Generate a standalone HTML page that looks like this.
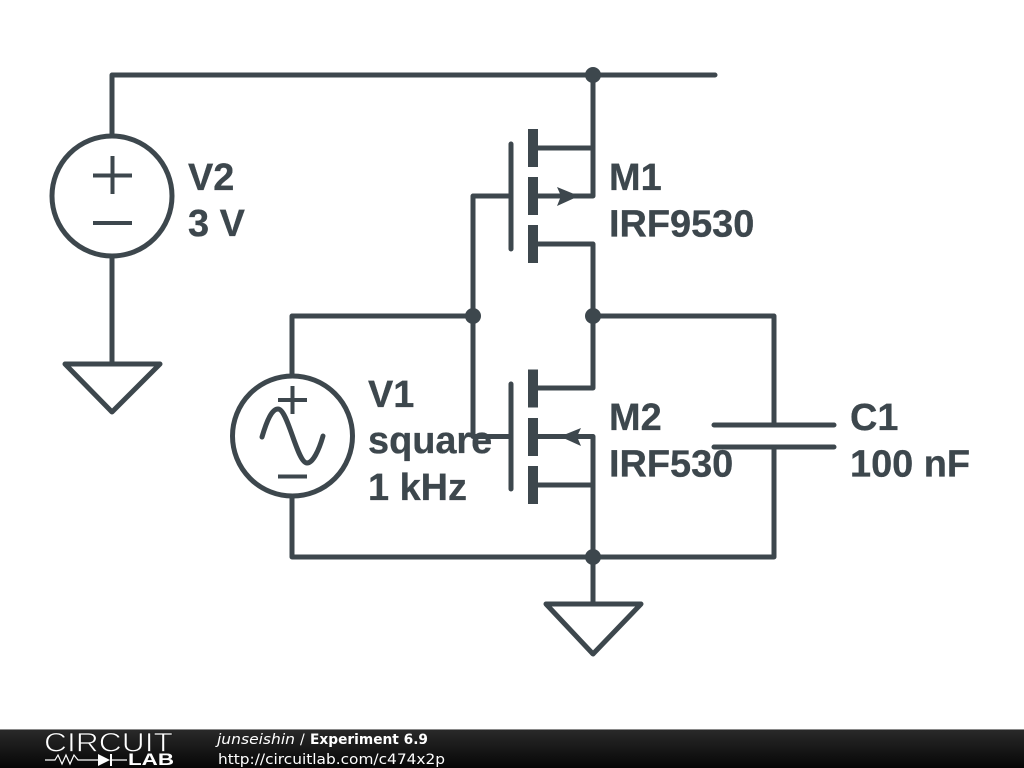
<!DOCTYPE html>
<html>
<head>
<meta charset="utf-8">
<style>
html,body{margin:0;padding:0;background:#fff}
svg{display:block}
.l{font-family:"Liberation Sans",sans-serif;font-weight:bold;font-size:37.9px;fill:#3d474d;stroke:#3d474d;stroke-width:.3}
.f{font-family:"DejaVu Sans",sans-serif;font-size:14px;fill:#fff}
</style>
</head>
<body>
<svg width="1024" height="768" viewBox="0 0 1024 768" xmlns="http://www.w3.org/2000/svg">
<defs>
<linearGradient id="g" x1="0" y1="0" x2="0" y2="1">
<stop offset="0" stop-color="#2a2a2a"/>
<stop offset="1" stop-color="#060606"/>
</linearGradient>
</defs>
<rect width="1024" height="768" fill="#fff"/>
<g fill="none" stroke="#3d474d" stroke-width="5" stroke-linecap="round" stroke-linejoin="round">
<!-- wires -->
<path d="M112 135V75H715"/>
<path d="M593 75V196H538"/>
<path d="M593 148H538"/>
<path d="M538 244H593V388H538"/>
<path d="M538 436.500H593V557"/>
<path d="M593 485H538"/>
<path d="M511 196H473V436.500H511"/>
<path d="M292 376V316H473"/>
<path d="M593 316H774V425"/>
<path d="M292 496V557H774V447"/>
<path d="M112 256V364"/>
<path d="M593 557V604"/>
<!-- V2 -->
<circle cx="112" cy="196" r="60"/>
<path d="M65 364H160L112 412Z"/>
<!-- V1 -->
<circle cx="292.500" cy="436" r="60"/>
<path d="M262 437C267 420 272 409 278 409C288 409 297 463 307 463C313 463 319 450 323 436"/>
<!-- ground 2 -->
<path d="M546 604H641L593 654Z"/>
<!-- gates -->
<path d="M511 144V249M511 384V489"/>
<!-- cap -->
<path d="M714 425H834M714 447H834"/>
</g>
<g fill="none" stroke="#3d474d" stroke-width="4">
<path d="M93 175.500H132M112.500 156V194M93 223H132"/>
<path d="M278 400H307M292.500 386V414M278 476.500H307"/>
</g>
<g fill="#3d474d">
<rect x="528" y="129" width="10" height="38"/>
<rect x="528" y="177" width="10" height="38"/>
<rect x="528" y="225" width="10" height="38"/>
<rect x="528" y="369.500" width="10" height="38"/>
<rect x="528" y="418" width="10" height="38"/>
<rect x="528" y="466" width="10" height="38"/>
<path d="M557 187L579 196L557 206L561 196Z"/>
<path d="M560 436.500L581 428L577 436.500L581 446Z"/>
<circle cx="593" cy="75" r="8"/>
<circle cx="473" cy="316" r="8"/>
<circle cx="593" cy="316" r="8"/>
<circle cx="593" cy="557" r="8"/>
</g>
<text class="l" x="188" y="190">V2</text>
<text class="l" x="188" y="236">3 V</text>
<text class="l" x="609" y="190">M1</text>
<text class="l" x="609" y="236.500">IRF9530</text>
<text class="l" x="368" y="407">V1</text>
<text class="l" x="368" y="453">square</text>
<text class="l" x="368" y="500">1 kHz</text>
<text class="l" x="609" y="430">M2</text>
<text class="l" x="609" y="476.500">IRF530</text>
<text class="l" x="850" y="430">C1</text>
<text class="l" x="850" y="476.500">100 nF</text>
<!-- footer -->
<rect x="0" y="729" width="1024" height="39" fill="url(#g)"/>
<rect x="0" y="729" width="1024" height="1" fill="#8a8a8a"/>
<text x="44" y="751.500" textLength="129" lengthAdjust="spacingAndGlyphs" font-family="Liberation Sans,sans-serif" font-size="27" fill="#fff" stroke="#1c1c1c" stroke-width="0.8">CIRCUIT</text>
<path d="M45 760H55L58 755L62 764L66 755L70 764L74 755L78 760H98M110 760H127" fill="none" stroke="#fff" stroke-width="1.200"/>
<path d="M98 754V766L110 760Z M110 754H112V766H110Z" fill="#fff"/>
<text x="128" y="765" textLength="46" lengthAdjust="spacingAndGlyphs" font-family="Liberation Sans,sans-serif" font-weight="bold" font-size="16.500" fill="#fff">LAB</text>
<text class="f" x="217" y="744" textLength="78" lengthAdjust="spacingAndGlyphs" font-style="italic">junseishin</text>
<text class="f" x="300" y="744">/</text>
<text class="f" x="310" y="744" textLength="118" lengthAdjust="spacingAndGlyphs" font-weight="bold">Experiment 6.9</text>
<text class="f" x="218" y="764" textLength="227" lengthAdjust="spacingAndGlyphs">http://circuitlab.com/c474x2p</text>
</svg>
</body>
</html>
